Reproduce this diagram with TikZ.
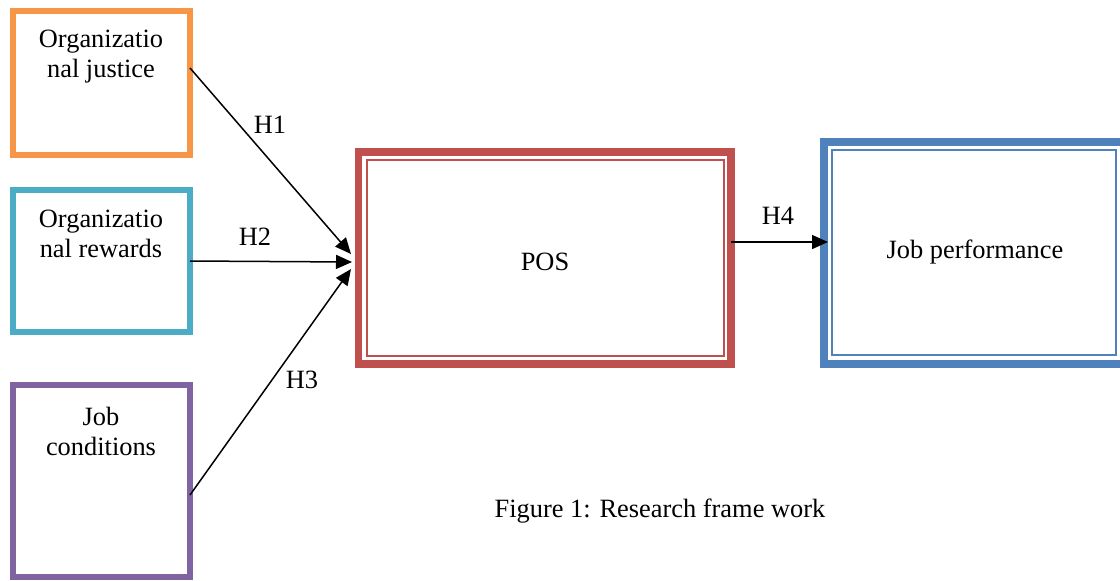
\documentclass[tikz,border=0pt]{standalone}
\usepackage{fontspec}
\setmainfont{Liberation Serif}
\usetikzlibrary{arrows.meta}
\definecolor{cOrange}{HTML}{F79646}
\definecolor{cTeal}{HTML}{4BACC6}
\definecolor{cPurple}{HTML}{8064A2}
\definecolor{cRed}{HTML}{C0504D}
\definecolor{cBlue}{HTML}{4F81BD}
\begin{document}
\begin{tikzpicture}[x=0.5pt,y=-0.5pt,
  every node/.style={font=\fontsize{13.2}{15}\selectfont, inner sep=0pt, outer sep=0pt},
  sidebox/.style={draw=#1, line width=3pt, fill=white, minimum width=88.5pt},
  thickbox/.style={draw=#1, line width=3.8pt},
  thinbox/.style={draw=#1, line width=1pt},
  lbl/.style={align=center},
  conn/.style={line width=0.75pt, -{Triangle[length=8pt,width=7pt]}}]
\useasboundingbox (0,0) rectangle (1120,580);
\clip (0,0) rectangle (1120,580);
% left boxes
\node[sidebox=cOrange, minimum height=72pt] (b1) at (101.5,83) {};
\node[sidebox=cTeal, minimum height=71pt] (b2) at (101.5,261) {};
\node[sidebox=cPurple, minimum height=96pt] (b3) at (101.5,481) {};
\node[lbl] (t1) at (101,57) {Organizatio\\nal justice};
\node[lbl] (t2) at (101,234) {Organizatio\\nal rewards};
\node[lbl] (t3) at (101,431) {Job\\conditions};
% POS
\node[thickbox=cRed, minimum width=186.25pt, minimum height=106pt] (pos) at (544.75,258) {};
\node[thinbox=cRed, minimum width=178.6pt, minimum height=98pt] (posin) at (545.3,258) {};
\node (tpos) at (545,262) {POS};
% Job performance
\node[thickbox=cBlue, minimum width=150pt, minimum height=111pt] (jp) at (974.25,253) {};
\node[thinbox=cBlue, minimum width=142pt, minimum height=102.5pt] (jpin) at (974,252.5) {};
\node (tjp) at (975,252) {Job performance};
% connectors
\coordinate (s1) at (190,68);
\coordinate (s3) at (190,495);
\coordinate (e1) at (351,254);
\coordinate (e2) at (352,262);
\coordinate (e3) at (351,269);
\coordinate (s4) at (731,242);
\coordinate (e4) at (828,242);
\draw[conn] (s1) -- (e1);
\draw[conn] (b2.east) -- (e2);
\draw[conn] (s3) -- (e3);
\draw[conn] (s4) -- (e4);
\node (h1) at (270,125) {H1};
\node (h2) at (255,237) {H2};
\node (h3) at (302,380) {H3};
\node (h4) at (778,216) {H4};
\node (cap) at (660,511) {Figure 1: Research frame work};
\end{tikzpicture}
\end{document}
